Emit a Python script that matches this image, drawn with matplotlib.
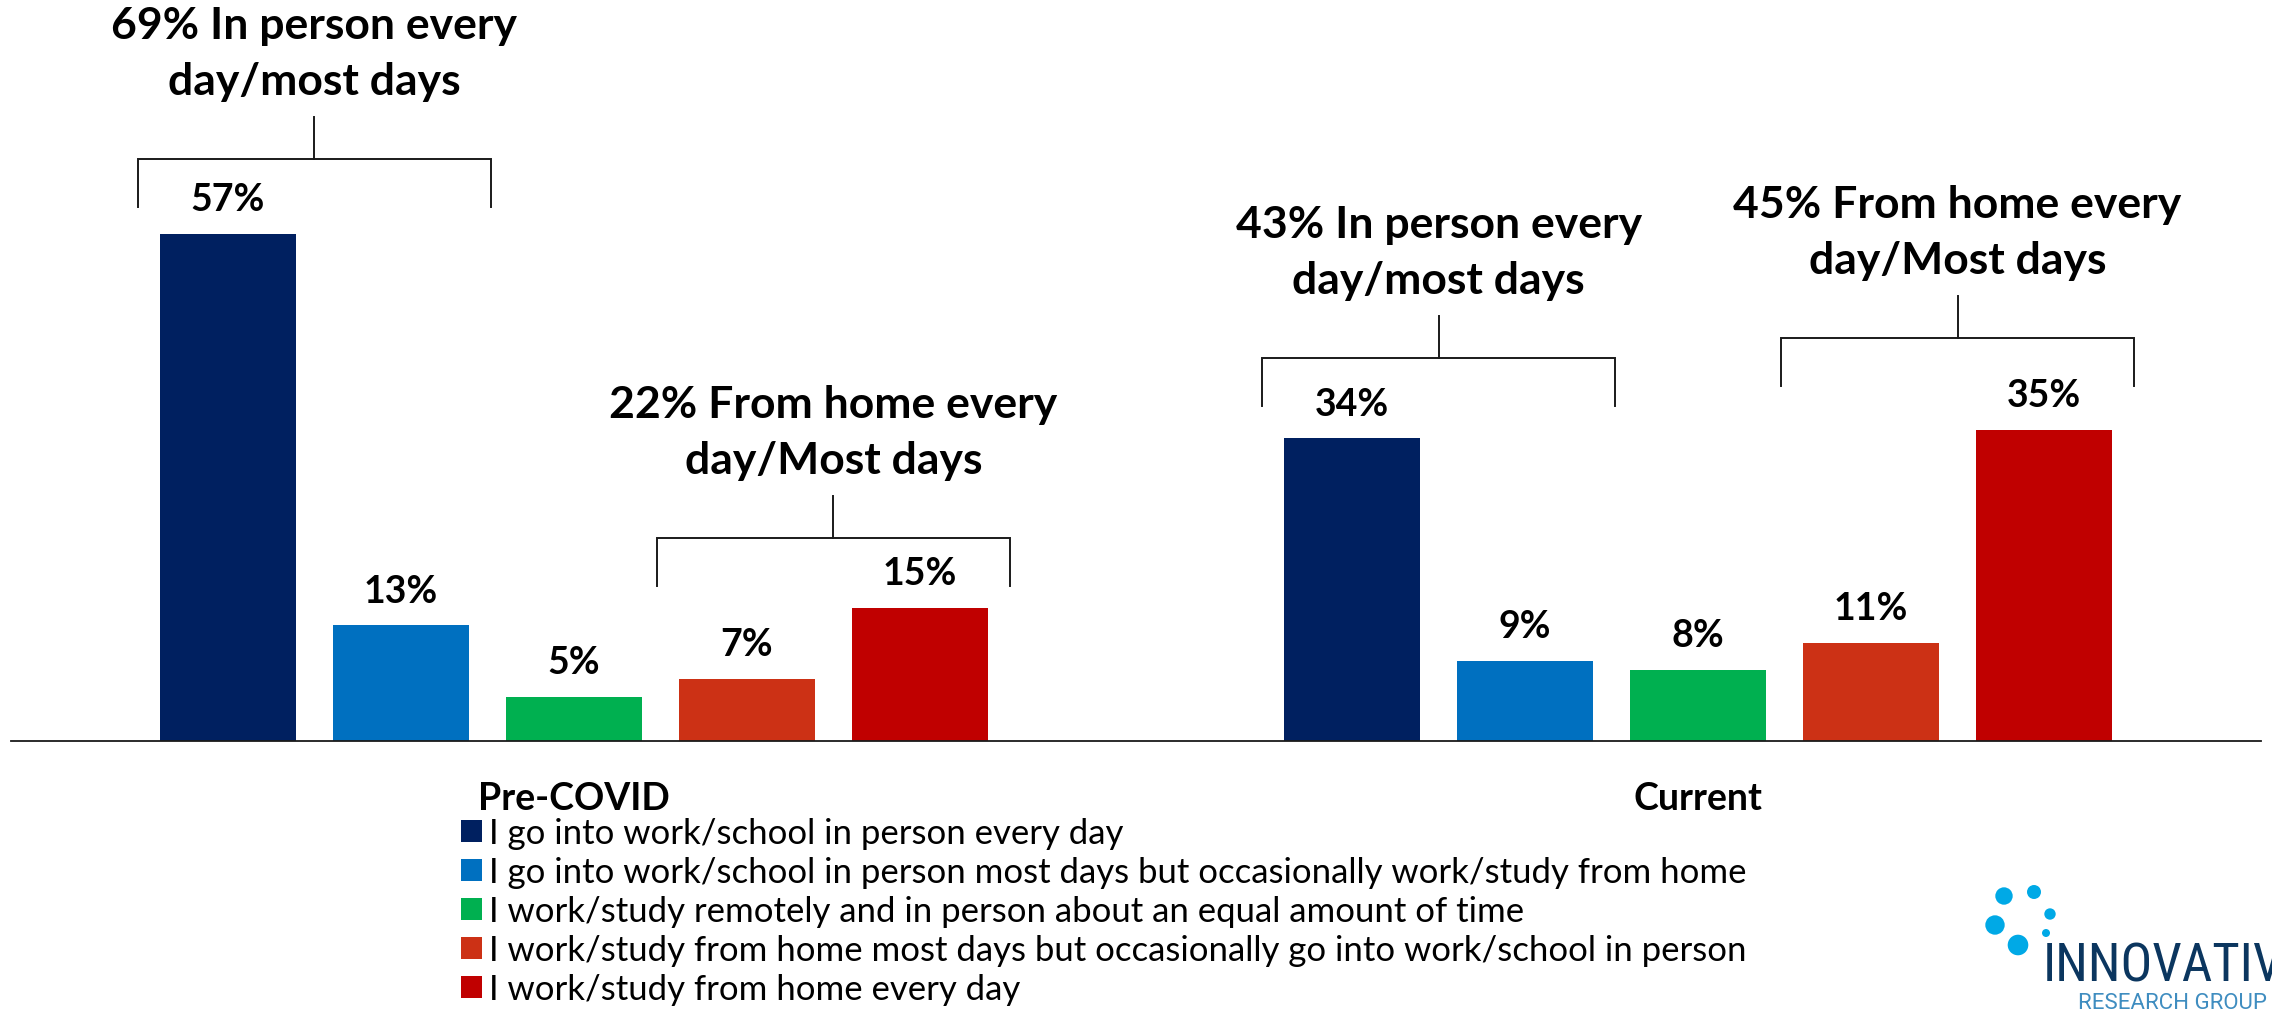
import matplotlib
matplotlib.use("Agg")
import matplotlib.pyplot as plt
from matplotlib import font_manager
from matplotlib.patches import Patch, Circle
from matplotlib.transforms import IdentityTransform

plt.rcParams['font.family'] = ['Lato', 'DejaVu Sans']

# survey results (% of respondents)
periods = ["Pre-COVID", "Current"]
responses = [
    "I go into work/school in person every day",
    "I go into work/school in person most days but occasionally work/study from home",
    "I work/study remotely and in person about an equal amount of time",
    "I work/study from home most days but occasionally go into work/school in person",
    "I work/study from home every day",
]
pre_covid = [57, 13, 5, 7, 15]
current = [34, 9, 8, 11, 35]
colors = ["#002060", "#0070C0", "#00B050", "#CC3115", "#C00000"]

# summary brackets: (period, first bar, last bar)
bracket_groups = [(0, 0, 1), (0, 3, 4), (1, 0, 1), (1, 3, 4)]
bracket_labels = [
    "69% In person every\nday/most days",
    "22% From home every\nday/Most days",
    "43% In person every\nday/most days",
    "45% From home every\nday/Most days",
]
bracket_gap = [3.0, 2.4, 3.6, 4.9]   # space between tallest bar and bracket legs

W, H = 2272, 1012
PX_PER_UNIT = 8.9
group_step = 6.5
bar_w = 0.786

fig = plt.figure(figsize=(W / 100, H / 100), dpi=100)
ax = fig.add_axes([11 / W, 270 / H, 2250 / W, 742 / H])

values = [pre_covid, current]
for g, vals in enumerate(values):
    xs = [g * group_step + i for i in range(len(vals))]
    ax.bar(xs, vals, width=bar_w, color=colors, edgecolor='none')
    for x, v in zip(xs, vals):
        ax.annotate(f"{v}%", (x, v), xytext=(0, 17), textcoords='offset points',
                    ha='center', va='baseline', fontsize=27, fontweight='bold')

for g, name in enumerate(periods):
    center = g * group_step + (len(responses) - 1) / 2
    ax.text(center, -7.6, name, ha='center', va='baseline',
            fontsize=27, fontweight='bold', clip_on=False)

# brackets with summary text
for (g, a, b), label, gap in zip(bracket_groups, bracket_labels, bracket_gap):
    vals = values[g][a:b + 1]
    xm = g * group_step + (a + b) / 2
    x0, x1 = xm - 1.02, xm + 1.02
    y_leg = max(vals) + gap
    y_bar = y_leg + 5.4
    y_stem = y_bar + 4.7
    ax.plot([x0, x0, x1, x1], [y_leg, y_bar, y_bar, y_leg], color='#1a1a1a', lw=1.4,
            solid_joinstyle='miter')
    ax.plot([xm, xm], [y_bar, y_stem], color='#1a1a1a', lw=1.4)
    lines = label.split("\n")
    for k, line in enumerate(reversed(lines)):
        ax.text(xm, y_stem + 2.6 + k * 6.3, line, ha='center', va='baseline',
                fontsize=32, fontweight='bold')

ax.set_xlim(-1.254, (len(periods) - 1) * group_step + 4 + 1.254)
ax.set_ylim(0, 742 / PX_PER_UNIT)
for s in ['top', 'left', 'right']:
    ax.spines[s].set_visible(False)
ax.spines['bottom'].set_linewidth(1.3)
ax.spines['bottom'].set_color('#1a1a1a')
ax.set_xticks([])
ax.set_yticks([])

handles = [Patch(facecolor=c, edgecolor='none') for c in colors]
fig.legend(handles, responses, loc='upper left', bbox_to_anchor=(461 / W, 1 - 818 / H),
           frameon=False, fontsize=25, handlelength=0.6, handleheight=0.6,
           handletextpad=0.2, labelspacing=0.2, borderpad=0, borderaxespad=0)

# company logo, bottom right
dots = [(2004, 897, 8.7), (2034, 893, 7), (2050, 915, 5.7),
        (1995, 926, 9.7), (2046, 934, 4), (2018, 946, 10.3)]
for cx, cy, r in dots:
    fig.add_artist(Circle((cx, H - cy), r, transform=IdentityTransform(),
                          facecolor='#00A9E6', edgecolor='none'))

installed = {f.name for f in font_manager.fontManager.ttflist}
narrow = [n for n in ['Liberation Sans Narrow', 'Roboto Condensed'] if n in installed]
if narrow:
    logo_font, logo_size = narrow[0], 38
else:
    logo_font, logo_size = 'Roboto', 33
fig.text(2043 / W, 30 / H, "INNOVATIVE", fontsize=logo_size, color='#0B365F',
         ha='left', va='baseline', family=[logo_font, 'DejaVu Sans'])
fig.text(2078 / W, 3 / H, "RESEARCH GROUP", fontsize=16, color='#3F8DC0',
         ha='left', va='baseline', family=['Roboto', 'DejaVu Sans'])

fig.savefig("out.png", dpi=100)
